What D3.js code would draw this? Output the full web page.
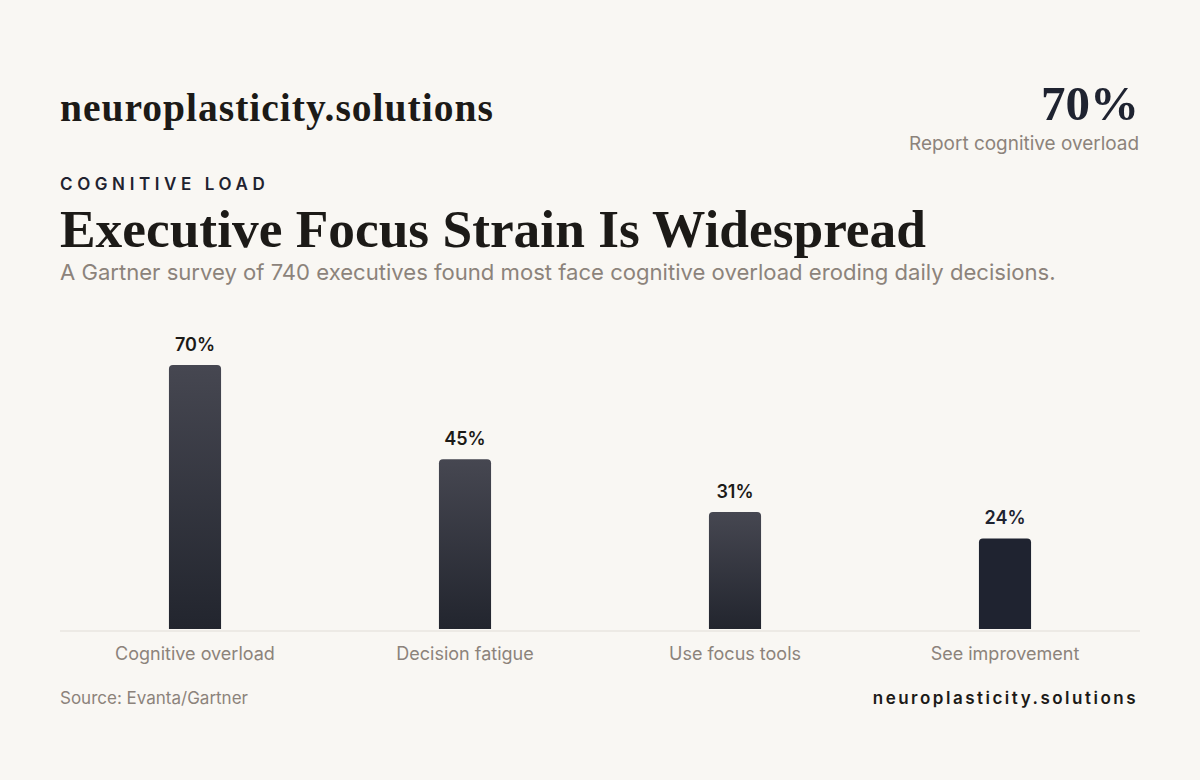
<!DOCTYPE html>
<html><head><meta charset="utf-8">
<script src="https://cdn.jsdelivr.net/npm/d3@7/dist/d3.min.js"></script>
<style>
html,body{margin:0;padding:0;background:#f9f7f3;}
svg{display:block;}
</style></head>
<body>
<svg id="c" width="1200" height="780"></svg>
<script>
const categories = ["Cognitive overload","Decision fatigue","Use focus tools","See improvement"];
const values = [70,45,31,24];
const valueLabels = ["70%","45%","31%","24%"];
const highlightIndex = 3;

const W=1200,H=780;
const svg=d3.select("#c");
svg.append("rect").attr("width",W).attr("height",H).attr("fill","#f9f7f3");
const serif="'Liberation Serif','DejaVu Serif',serif";
const sans="Inter,'Noto Sans',sans-serif";

const defs=svg.append("defs");
const g=defs.append("linearGradient").attr("id","barGrad").attr("x1",0).attr("y1",0).attr("x2",0).attr("y2",1);
g.append("stop").attr("offset","0%").attr("stop-color","#464751");
g.append("stop").attr("offset","100%").attr("stop-color","#22252e");

function fitText(sel,target){
  const n=sel.node();const fs=parseFloat(sel.attr("font-size"));
  const w=n.getComputedTextLength();
  sel.attr("font-size",(fs*target/w).toFixed(2));
}

// brand
const brand=svg.append("text").attr("x",60).attr("y",121).attr("font-family",serif).attr("font-weight",700)
 .attr("font-size",34).attr("fill","#1c1a17").attr("letter-spacing",1).text("neuroplasticity.solutions");
fitText(brand,438);

// KPI
const kpi=svg.append("text").attr("x",1139).attr("y",120).attr("text-anchor","end").attr("font-family",serif)
 .attr("font-weight",700).attr("font-size",54).attr("fill","#1f2330").text("70%");
fitText(kpi,98);
const kpiSub=svg.append("text").attr("x",1139).attr("y",150).attr("text-anchor","end").attr("font-family",sans)
 .attr("font-size",19).attr("fill","#8c837b").text("Report cognitive overload");
fitText(kpiSub,230);

// eyebrow
svg.append("text").attr("x",60).attr("y",190).attr("font-family",sans).attr("font-weight",600)
 .attr("font-size",17).attr("letter-spacing",4.6).attr("fill","#1f2330").text("COGNITIVE LOAD");

// title
const title=svg.append("text").attr("x",60).attr("y",247).attr("font-family",serif).attr("font-weight",700)
 .attr("font-size",52).attr("fill","#1c1a17").text("Executive Focus Strain Is Widespread");
fitText(title,866);

const sub=svg.append("text").attr("x",60).attr("y",280).attr("font-family",sans).attr("font-size",22)
 .attr("fill","#8c837b").text("A Gartner survey of 740 executives found most face cognitive overload eroding daily decisions.");
fitText(sub,996);

// chart
const x=d3.scaleBand().domain(categories).range([60,1140]).paddingInner(0.807).paddingOuter(0.4035);
const y=d3.scaleLinear().domain([0,80]).range([629,327.3]);

svg.append("line").attr("x1",60).attr("x2",1140).attr("y1",631).attr("y2",631)
 .attr("stroke","#e2ded7").attr("stroke-width",1.2);

const r=4;
function barPath(x0,y0,w,h){
  return `M${x0},${y0+h}V${y0+r}Q${x0},${y0} ${x0+r},${y0}H${x0+w-r}Q${x0+w},${y0} ${x0+w},${y0+r}V${y0+h}Z`;
}
const data=categories.map((c,i)=>({c,v:values[i],l:valueLabels[i],i}));
svg.selectAll(".bar").data(data).enter().append("path")
 .attr("d",d=>barPath(x(d.c),y(d.v),x.bandwidth(),y(0)-y(d.v)))
 .attr("fill",d=>d.i===highlightIndex?"#1f2330":"url(#barGrad)");

svg.selectAll(".vl").data(data).enter().append("text")
 .attr("x",d=>x(d.c)+x.bandwidth()/2).attr("y",d=>y(d.v)-14).attr("text-anchor","middle")
 .attr("font-family",sans).attr("font-weight",600).attr("font-size",18)
 .attr("fill",d=>d.i===highlightIndex?"#1f2330":"#1c1a17").text(d=>d.l);

svg.selectAll(".cl").data(data).enter().append("text")
 .attr("x",d=>x(d.c)+x.bandwidth()/2).attr("y",660).attr("text-anchor","middle")
 .attr("font-family",sans).attr("font-size",18).attr("fill","#8c837b").text(d=>d.c);

// footer
const src=svg.append("text").attr("x",60).attr("y",704).attr("font-family",sans).attr("font-size",17)
 .attr("fill","#8c837b").text("Source: Evanta/Gartner");
fitText(src,188);
svg.append("text").attr("x",1138).attr("y",704).attr("text-anchor","end").attr("font-family",sans)
 .attr("font-weight",600).attr("font-size",17).attr("letter-spacing",2.5).attr("fill","#1c1a17").text("neuroplasticity.solutions");
</script>
</body></html>
